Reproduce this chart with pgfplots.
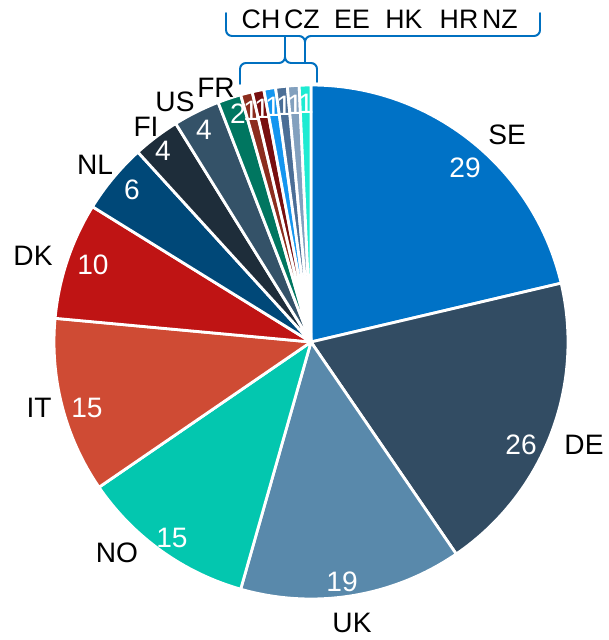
\documentclass[border=0pt]{standalone}
\usepackage{fontspec}
\setmainfont{Liberation Sans}
\usepackage{pgfplots}
\usepackage{pgfplotstable}
\pgfplotsset{compat=1.18}

\definecolor{cSE}{RGB}{0,114,198}
\definecolor{cDE}{RGB}{50,76,99}
\definecolor{cUK}{RGB}{89,137,171}
\definecolor{cNO}{RGB}{3,199,175}
\definecolor{cIT}{RGB}{207,75,52}
\definecolor{cDK}{RGB}{191,20,20}
\definecolor{cNL}{RGB}{0,72,120}
\definecolor{cFI}{RGB}{30,45,58}
\definecolor{cUS}{RGB}{52,82,104}
\definecolor{cFR}{RGB}{0,118,96}
\definecolor{cCH}{RGB}{140,45,30}
\definecolor{cCZ}{RGB}{120,15,15}
\definecolor{cEE}{RGB}{20,150,240}
\definecolor{cHK}{RGB}{75,110,150}
\definecolor{cHR}{RGB}{130,160,190}
\definecolor{cNZ}{RGB}{30,235,210}
\definecolor{bracecol}{RGB}{0,112,192}

% value, slice colour, value label position, country label position (px)
\pgfplotstableread{
name value col vx vy lx ly
SE 29 cSE 465 168 507 135
DE 26 cDE 521 445 584 445
UK 19 cUK 342 582 352 623
NO 15 cNO 172 538 117 553
IT 15 cIT 87 408 39 408
DK 10 cDK 93 265 33 256
NL 6 cNL 132 190 95 165
FI 4 cFI 163 151 146 127
US 4 cUS 204 130 175 102
FR 2 cFR 238 114 216 88
CH 1 cCH 251 111 0 0
CZ 1 cCZ 262 109 0 0
EE 1 cEE 273 107 0 0
HK 1 cHK 284 106 0 0
HR 1 cHR 295 105 0 0
NZ 1 cNZ 306 104 0 0
}\pietab

\newcommand\lbl{\fontsize{20}{22}\selectfont}
\newcommand\toplbl{\fontsize{19}{21}\selectfont}
\def\R{6.425cm}

% total of all slices
\xdef\pietotal{0}
\pgfplotstableforeachcolumnelement{value}\of\pietab\as\pv{%
  \pgfmathparse{\pietotal+\pv}\xdef\pietotal{\pgfmathresult}}

\begin{document}
\begin{tikzpicture}
\begin{axis}[
    hide axis,
    scale only axis,
    width=15.175cm, height=16cm,
    xmin=0, xmax=607, ymin=0, ymax=640,
    y dir=reverse,
    clip=false,
]
\path (axis cs:0,0) rectangle (axis cs:607,640);

\xdef\cum{0}
\pgfplotsinvokeforeach{0,...,15}{
  \pgfplotstablegetelem{#1}{value}\of\pietab \let\pv\pgfplotsretval
  \pgfplotstablegetelem{#1}{col}\of\pietab \let\pcol\pgfplotsretval
  \pgfplotstablegetelem{#1}{vx}\of\pietab \let\pvx\pgfplotsretval
  \pgfplotstablegetelem{#1}{vy}\of\pietab \let\pvy\pgfplotsretval
  \pgfmathsetmacro\angA{90-\cum/\pietotal*360}
  \pgfmathsetmacro\angB{90-(\cum+\pv)/\pietotal*360}
  \pgfmathparse{\cum+\pv}\xdef\cum{\pgfmathresult}
  \edef\temp{%
    \noexpand\fill[fill=\pcol, draw=white, line width=2pt, line join=round]
      (axis cs:311,342) -- ++(\angA:\R)
      arc[start angle=\angA, end angle=\angB, radius=\R] -- cycle;
    \noexpand\node[text=white, font=\noexpand\lbl] at (axis cs:\pvx,\pvy) {\pv};
  }
  \temp
}

% country labels of the larger slices
\pgfplotsinvokeforeach{0,...,9}{
  \pgfplotstablegetelem{#1}{name}\of\pietab \let\pname\pgfplotsretval
  \pgfplotstablegetelem{#1}{lx}\of\pietab \let\plx\pgfplotsretval
  \pgfplotstablegetelem{#1}{ly}\of\pietab \let\ply\pgfplotsretval
  \edef\temp{\noexpand\node[font=\noexpand\lbl] at (axis cs:\plx,\ply) {\pname};}
  \temp
}

% the six one-study countries, bracketed above the pie
\node[font=\toplbl] at (axis cs:261,19) {CH};
\node[font=\toplbl] at (axis cs:302,19) {CZ};
\node[font=\toplbl] at (axis cs:352,19) {EE};
\node[font=\toplbl] at (axis cs:404,19) {HK};
\node[font=\toplbl] at (axis cs:459,19) {HR};
\node[font=\toplbl] at (axis cs:500,19) {NZ};

\draw[bracecol, line width=1.4pt, line cap=round]
  (axis cs:226,13) -- (axis cs:226,30) to[out=-90,in=180] (axis cs:232,36)
  -- (axis cs:299,36) to[out=0,in=90] (axis cs:305,42)
  to[out=90,in=180] (axis cs:311,36) -- (axis cs:534,36)
  to[out=0,in=-90] (axis cs:540,30) -- (axis cs:540,13);
\draw[bracecol, line width=1.4pt] (axis cs:305,42) -- (axis cs:305,62);
\draw[bracecol, line width=1.4pt, line cap=round]
  (axis cs:240,84) -- (axis cs:240,69) to[out=90,in=180] (axis cs:246,63)
  -- (axis cs:279,63) to[out=0,in=-90] (axis cs:285,57)
  to[out=-90,in=180] (axis cs:291,63) -- (axis cs:311,63)
  to[out=0,in=90] (axis cs:317,69) -- (axis cs:317,82);
\draw[bracecol, line width=1.4pt] (axis cs:285,57) -- (axis cs:285,36);
\end{axis}
\end{tikzpicture}
\end{document}
